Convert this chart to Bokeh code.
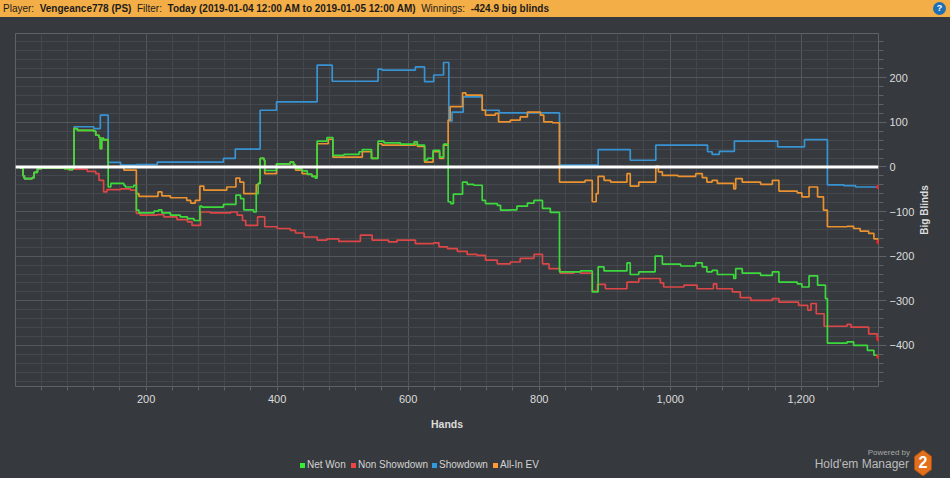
import math
from bokeh.plotting import figure
from bokeh.models import Range1d, SingleIntervalTicker, NumeralTickFormatter, Span, Div
from bokeh.layouts import column, row
from bokeh.embed import file_html
from bokeh.resources import INLINE

# ---------------- data (hand, big blinds) ----------------
net_won = [(1,0),(8,-3),(12,-20),(14,-26),(26,-24),(29,-12),(34,-4),(40,-2),(75,-4),(82,-6),(88,-3),
           (90,86),(95,82),(120,80),(123,71),(128,66),(130,41),(132,64),(135,60),(138,61),(142,-45),
           (146,-37),(166,-41),(168,-45),(181,-41),(185,-97),(189,-103),(212,-99),(219,-96),(224,-103),
           (237,-108),(252,-112),(263,-116),(273,-120),(282,-88),(285,-90),(318,-84),(337,-63),(344,-71),
           (349,-96),(364,-101),(368,-60),(371,-37),(374,19),(380,15),(381,-8),(399,7),(420,11),(425,5),
           (428,-4),(438,-9),(446,-16),(453,-21),(458,-25),(461,58),(476,66),(485,26),(502,28),(525,34),
           (530,39),(544,19),(554,58),(563,54),(588,51),(609,56),(614,49),(625,15),(629,19),(638,37),
           (648,22),(654,51),(661,-78),(665,-82),(669,-61),(683,-34),(690,-39),(700,-41),(713,-75),
           (718,-82),(736,-86),(741,-97),(756,-96),(766,-88),(782,-81),(792,-75),(805,-93),(817,-102),
           (831,-235),(863,-233),(881,-280),(890,-224),(899,-233),(934,-215),(939,-241),(952,-235),
           (977,-200),(988,-218),(1016,-222),(1039,-215),(1049,-224),(1056,-235),(1064,-232),(1072,-241),
           (1097,-250),(1100,-228),(1110,-238),(1138,-243),(1156,-235),(1166,-258),(1194,-262),
           (1201,-269),(1212,-244),(1225,-265),(1237,-295),(1240,-395),(1270,-392),(1280,-400),
           (1301,-411),(1311,-422),(1318,-425)]

non_showdown = [(1,0),(40,-1),(70,-3),(90,-5),(110,-10),(123,-15),(128,-30),(135,-56),(140,-51),(161,-49),
                (176,-52),(185,-104),(191,-108),(217,-107),(227,-112),(247,-118),(263,-123),(270,-131),
                (283,-101),(298,-103),(329,-101),(339,-108),(347,-120),(352,-131),(370,-112),(381,-134),
                (400,-138),(420,-142),(428,-148),(441,-157),(461,-164),(476,-161),(494,-167),(527,-153),
                (545,-164),(570,-168),(583,-164),(611,-172),(639,-170),(647,-179),(660,-183),(675,-189),
                (690,-196),(705,-198),(718,-209),(736,-217),(756,-213),(771,-205),(792,-196),(805,-217),
                (815,-228),(832,-238),(853,-235),(863,-238),(881,-278),(889,-263),(901,-273),(934,-258),
                (952,-250),(985,-260),(990,-269),(1021,-265),(1041,-273),(1066,-262),(1071,-273),
                (1095,-280),(1107,-293),(1123,-299),(1156,-295),(1166,-303),(1196,-310),(1210,-321),
                (1215,-306),(1223,-329),(1235,-357),(1270,-353),(1276,-359),(1303,-374),(1316,-385),
                (1318,-386)]

showdown = [(1,0),(12,-20),(14,-26),(26,-24),(29,-12),(34,-4),(40,-1),(75,1),(90,90),(120,86),(130,116),
            (142,10),(161,4),(185,5),(217,11),(318,19),(336,40),(374,127),(399,146),(461,228),(484,192),
            (554,219),(560,217),(611,224),(625,191),(639,206),(654,234),(662,103),(667,123),(684,157),
            (713,127),(739,121),(831,4),(890,39),(939,15),(978,49),(1057,34),(1064,28),(1075,35),
            (1098,58),(1164,45),(1205,61),(1240,-40),(1265,-42),(1283,-45),(1318,-45)]

all_in_ev = [(1,0),(8,-3),(12,-20),(14,-26),(26,-24),(29,-12),(34,-4),(40,-2),(75,-4),(82,-6),(88,-3),
             (90,86),(95,82),(120,80),(123,71),(128,66),(130,41),(132,64),(135,60),(138,61),(142,1),
             (166,-7),(185,-60),(189,-66),(218,-56),(224,-65),(237,-69),(262,-75),(268,-81),(275,-75),
             (282,-43),(288,-52),(323,-45),(337,-25),(343,-34),(349,-60),(368,-40),(371,-37),(374,19),
             (380,15),(381,-15),(399,7),(420,11),(425,3),(428,-7),(438,-15),(446,-17),(453,-21),(461,52),
             (478,62),(485,22),(530,34),(544,19),(554,52),(560,49),(611,51),(614,46),(625,11),(638,34),
             (648,19),(654,49),(661,105),(664,135),(683,166),(688,161),(713,127),(718,116),(733,120),
             (738,101),(756,105),(771,112),(782,123),(802,116),(807,101),(820,99),(831,-34),(870,-30),
             (881,-78),(887,-60),(890,-21),(899,-30),(909,-34),(934,-15),(939,-43),(952,-34),(978,2),
             (982,-11),(988,-19),(1012,-21),(1039,-15),(1049,-24),(1056,-34),(1064,-30),(1072,-37),
             (1097,-49),(1100,-26),(1110,-34),(1138,-39),(1156,-30),(1166,-54),(1194,-58),(1201,-67),
             (1212,-45),(1225,-67),(1234,-97),(1240,-134),(1270,-133),(1280,-138),(1290,-144),
             (1303,-149),(1311,-161),(1318,-168)]

series_names = ["Net Won", "Non Showdown", "Showdown", "All-In EV"]
series_data = [net_won, non_showdown, showdown, all_in_ev]
line_colors = ["#3cd93c", "#dc4646", "#3893d3", "#ea922f"]
legend_colors = ["#33ee33", "#ee4444", "#3399dd", "#ff9933"]

# ---------------- styling ----------------
BG = "#36393d"
GRID = "#54575b"
MINOR = "#44474b"
FRAME = "#5e6165"
TXT = "#dcdcdc"
FONT = "Liberation Sans"
FIG_W = 917
STRIP_W = 950 - FIG_W

header_html = (
    '<div style="width:950px;height:17px;line-height:17px;background:#f4ae47;color:#1c1c1c;'
    'font-family:\'Liberation Sans\';font-size:10px;padding-left:3px;box-sizing:border-box;'
    'white-space:nowrap;overflow:hidden;">'
    'Player:&nbsp; <b>Vengeance778 (PS)</b>&nbsp; Filter:&nbsp; '
    '<b>Today (2019-01-04 12:00 AM to 2019-01-05 12:00 AM)</b>&nbsp; Winnings:&nbsp; '
    '<b>-424.9 big blinds</b>'
    '<span style="float:right;margin:2px 4px 0 0;width:13px;height:13px;line-height:13px;'
    'border-radius:7px;background:#1f6fb5;color:white;font-weight:bold;font-size:9px;'
    'text-align:center;">?</span></div>'
)
header = Div(text=header_html, width=950, height=17, margin=(0, 0, 0, 0))

p = figure(width=FIG_W, height=423,
           x_range=Range1d(0.5, 1318), y_range=Range1d(-492, 299),
           y_axis_location="right", output_backend="svg", toolbar_location=None,
           min_border_left=15, min_border_right=FIG_W - 15 - 863, min_border_top=16,
           min_border_bottom=54,
           background_fill_color=BG, border_fill_color=BG, outline_line_color=FRAME,
           margin=(0, 0, 0, 0))

# x axis
xa = p.xaxis[0]
xa.ticker = SingleIntervalTicker(interval=200, num_minor_ticks=5)
xa.formatter = NumeralTickFormatter(format="0,0")
xa.axis_line_color = None
xa.major_tick_out = 0
xa.major_tick_in = 0
xa.minor_tick_out = 4
xa.minor_tick_in = 0
xa.minor_tick_line_color = FRAME
xa.major_label_standoff = 4
xa.major_label_text_color = TXT
xa.major_label_text_font = FONT
xa.major_label_text_font_size = "11px"
xa.axis_label = "Hands"
xa.axis_label_text_color = TXT
xa.axis_label_text_font = FONT
xa.axis_label_text_font_style = "bold"
xa.axis_label_text_font_size = "10.5px"
xa.axis_label_standoff = 12

# y axis (right); its title is drawn beside the figure so it can read bottom-to-top
ya = p.yaxis[0]
ya.ticker = SingleIntervalTicker(interval=100, num_minor_ticks=5)
ya.axis_line_color = None
ya.major_tick_out = 8
ya.major_tick_in = 0
ya.minor_tick_out = 5
ya.minor_tick_in = 0
ya.major_tick_line_color = FRAME
ya.minor_tick_line_color = FRAME
ya.major_label_standoff = 3
ya.major_label_text_color = TXT
ya.major_label_text_font = FONT
ya.major_label_text_font_size = "11px"

for g in (p.xgrid[0], p.ygrid[0]):
    g.grid_line_color = GRID
    g.minor_grid_line_color = MINOR
    g.grid_line_width = 1
    g.minor_grid_line_width = 1

# series lines (drawn back to front)
for i in [1, 2, 3, 0]:
    hands = [h for h, v in series_data[i]]
    vals = [v for h, v in series_data[i]]
    p.step(hands, vals, mode="after", line_color=line_colors[i], line_width=1.7)

# small red end markers
p.scatter([s[-1][0] for s in series_data], [s[-1][1] for s in series_data],
          size=3, color="#ff2020", marker="square")

# zero line
p.add_layout(Span(location=0, dimension="width", line_color="white", line_width=3))

# y-axis title strip (right of the figure)
ylab_html = (
    '<div style="position:relative;width:%dpx;height:423px;background:%s;">'
    '<span style="position:absolute;left:%dpx;top:193px;transform:translate(-50%%,-50%%) rotate(-90deg);'
    'font-family:\'Liberation Sans\';font-size:10px;font-weight:bold;color:%s;white-space:nowrap;">'
    'Big Blinds</span></div>' % (STRIP_W, BG, 925 - FIG_W, TXT)
)
ylab = Div(text=ylab_html, width=STRIP_W, height=423, margin=(0, 0, 0, 0))

# ---------------- footer: legend + logo ----------------
sq_left = [300, 351, 432, 493]
parts = ['<div style="position:relative;width:950px;height:38px;background:%s;'
         'font-family:\'Liberation Sans\';overflow:hidden;">' % BG]
for name, c, x in zip(series_names, legend_colors, sq_left):
    parts.append('<span style="position:absolute;left:%dpx;top:23px;width:5px;height:5px;'
                 'background:%s;"></span>' % (x, c))
    parts.append('<span style="position:absolute;left:%dpx;top:19px;font-size:10px;'
                 'line-height:12px;color:#d4d4d4;white-space:nowrap;">%s</span>' % (x + 7, name))
parts.append('<span style="position:absolute;right:40px;top:8px;font-size:8px;line-height:10px;'
             'color:#a8a8a8;white-space:nowrap;">Powered by</span>')
parts.append('<span style="position:absolute;right:41px;top:17px;font-size:12px;line-height:14px;'
             'color:#bcbcbc;white-space:nowrap;">Hold\'em Manager</span>')
parts.append('<svg style="position:absolute;left:913px;top:9px;" width="20" height="28">'
             '<polygon points="10,1 18.5,7.5 18.5,20.5 10,27 1.5,20.5 1.5,7.5" '
             'fill="#e2701d" stroke="#a84f14" stroke-width="1"/></svg>')
parts.append('<span style="position:absolute;left:913px;top:14px;width:20px;text-align:center;'
             'font-size:16px;line-height:18px;font-weight:bold;color:white;">2</span>')
parts.append('</div>')
footer = Div(text="".join(parts), width=950, height=38, margin=(0, 0, 0, 0))

middle = row(p, ylab, spacing=0, width=950, styles={"background-color": BG})
layout = column(header, middle, footer, spacing=0, width=950, styles={"background-color": BG})
open("out.html", "w").write(file_html(layout, INLINE))
